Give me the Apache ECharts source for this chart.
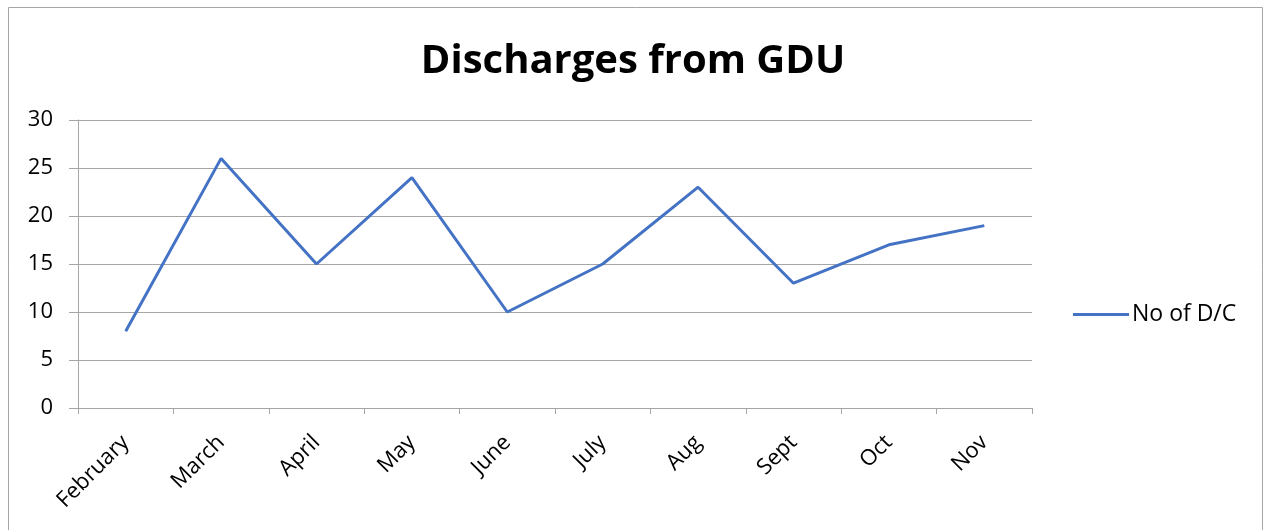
<!DOCTYPE html>
<html>
<head>
<meta charset="utf-8">
<script src="https://cdn.jsdelivr.net/npm/echarts@6/dist/echarts.min.js"></script>
<style>html,body{margin:0;padding:0;background:#fff}#c{width:1266px;height:530px}</style>
</head>
<body>
<div id="c"></div>
<script>
const categories = ['February','March','April','May','June','July','Aug','Sept','Oct','Nov'];
const discharges = [8, 26, 15, 24, 10, 15, 23, 13, 17, 19];
const seriesName = 'No of D/C';
const titleText = 'Discharges from GDU';

const chart = echarts.init(document.getElementById('c'));
const font = "'Open Sans', 'Liberation Sans', sans-serif";
chart.setOption({
  animation: false,
  backgroundColor: '#fff',
  title: {
    text: titleText, left: 'center', top: 37,
    textStyle: {fontFamily: font, fontWeight: 'bold', fontSize: 40, color: '#000'}
  },
  graphic: [{
    type: 'rect', shape: {x: 8.5, y: 7.5, width: 1254, height: 540},
    style: {fill: 'none', stroke: '#a6a6a6', lineWidth: 1}, silent: true
  }],
  legend: {
    data: [seriesName], orient: 'vertical', left: 1068, top: 298,
    itemWidth: 56, itemHeight: 3, itemGap: 5,
    icon: 'rect',
    textStyle: {fontFamily: font, fontSize: 23, color: '#000', padding: [0,0,0,-2]}
  },
  grid: {left: 78, right: 234, top: 120, bottom: 122, containLabel: false},
  xAxis: {
    type: 'category', data: categories, boundaryGap: true,
    axisLine: {lineStyle: {color: '#a6a6a6', width: 1}},
    axisTick: {show: true, alignWithLabel: false, length: 6, lineStyle: {color: '#a6a6a6'}},
    axisLabel: {rotate: 45, fontFamily: font, fontSize: 22, color: '#000', margin: 31, interval: 0}
  },
  yAxis: {
    type: 'value', min: 0, max: 30, interval: 5,
    axisLine: {show: true, lineStyle: {color: '#a6a6a6', width: 1}},
    axisTick: {show: true, inside: false, length: 9, lineStyle: {color: '#a6a6a6'}},
    splitLine: {lineStyle: {color: '#a6a6a6', width: 1}},
    axisLabel: {fontFamily: font, fontSize: 22, color: '#000', margin: 25}
  },
  series: [{
    name: seriesName, type: 'line', data: discharges,
    symbol: 'none', lineStyle: {color: '#4472c4', width: 3},
    itemStyle: {color: '#4472c4'}
  }]
});
</script>
</body>
</html>
